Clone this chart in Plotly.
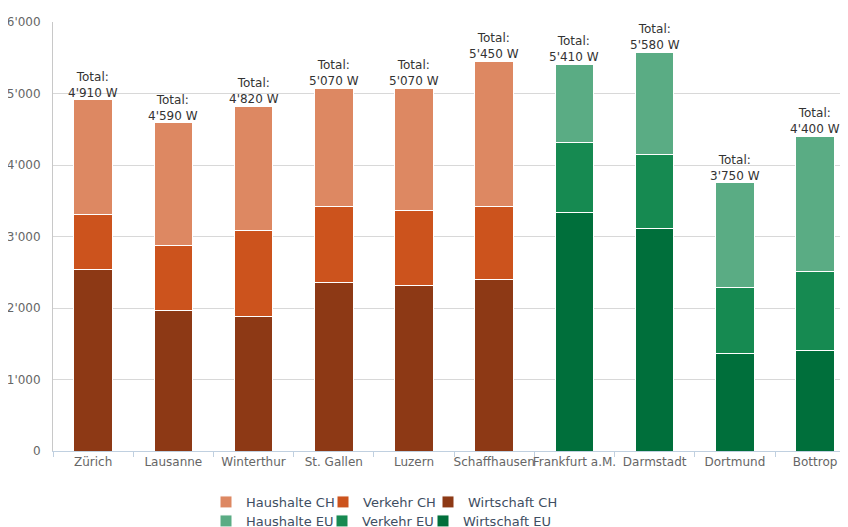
import plotly.graph_objects as go

categories = ["Zürich", "Lausanne", "Winterthur", "St. Gallen", "Luzern", "Schaffhausen",
              "Frankfurt a.M.", "Darmstadt", "Dortmund", "Bottrop"]
ch_cities = categories[:6]
eu_cities = categories[6:]

wirtschaft_ch = [2540, 1960, 1880, 2360, 2310, 2400]
verkehr_ch = [770, 910, 1210, 1060, 1050, 1020]
haushalte_ch = [1600, 1720, 1730, 1650, 1710, 2030]

wirtschaft_eu = [3330, 3110, 1370, 1410]
verkehr_eu = [980, 1030, 910, 1100]
haushalte_eu = [1100, 1440, 1470, 1890]

totals = [4910, 4590, 4820, 5070, 5070, 5450, 5410, 5580, 3750, 4400]

colors = {
    "Haushalte CH": "#DD8862", "Verkehr CH": "#CC531D", "Wirtschaft CH": "#8D3915",
    "Haushalte EU": "#5AAC84", "Verkehr EU": "#168A51", "Wirtschaft EU": "#006F3B",
}

FONT = "DejaVu Sans"
W, H = 840, 519          # figure sits at an 8px page offset
fig = go.Figure()

# legend placement (page pixels: text start, row centre)
legend_pos = {
    "Haushalte CH": (246, 502), "Verkehr CH": (363, 502), "Wirtschaft CH": (468, 502),
    "Haushalte EU": (246, 521), "Verkehr EU": (362, 521), "Wirtschaft EU": (463, 521),
}
legend_ids = {}

def add(name, x, y):
    lid = "legend" if not legend_ids else f"legend{len(legend_ids) + 1}"
    legend_ids[name] = lid
    fig.add_trace(go.Bar(
        name=name, x=x, y=y, legend=lid,
        marker=dict(color=colors[name], line=dict(color="white", width=1)),
        hoverinfo="x+y+name",
    ))

add("Wirtschaft CH", ch_cities, wirtschaft_ch)
add("Verkehr CH", ch_cities, verkehr_ch)
add("Haushalte CH", ch_cities, haushalte_ch)
add("Wirtschaft EU", eu_cities, wirtschaft_eu)
add("Verkehr EU", eu_cities, verkehr_eu)
add("Haushalte EU", eu_cities, haushalte_eu)

for c, t in zip(categories, totals):
    fig.add_annotation(
        x=c, y=t, xref="x", yref="y", showarrow=False, yanchor="bottom",
        text="Total:<br>" + f"{t:,}".replace(",", "'") + " W",
        font=dict(family=FONT, size=12, color="#333333"), yshift=-2,
    )

legends = {}
for name, lid in legend_ids.items():
    px, py = legend_pos[name]
    legends[lid] = dict(
        orientation="h", xref="container", yref="container",
        xanchor="left", yanchor="middle",
        x=(px - 8 - 40) / W, y=1 - (py - 8) / H,
        font=dict(family=FONT, size=13, color="#3E4E62"),
        bgcolor="rgba(0,0,0,0)", borderwidth=0, itemclick=False,
    )

fig.update_layout(
    width=W, height=H,
    margin=dict(l=45, r=0, t=14, b=76, pad=0, autoexpand=False),
    paper_bgcolor="white", plot_bgcolor="white",
    barmode="stack", bargap=0.52,
    separators=".'",
    font=dict(family=FONT, size=12, color="#666666"),
    showlegend=True,
    xaxis=dict(
        type="category", categoryorder="array", categoryarray=categories,
        range=[-0.5, 9.41], showgrid=False, showline=True, linecolor="#C0D0E0", linewidth=1,
        ticks="outside", tickson="boundaries", ticklen=5, tickcolor="#C0D0E0",
        tickangle=0, automargin=False,
        tickfont=dict(family=FONT, size=12, color="#666666"), fixedrange=True,
    ),
    yaxis=dict(
        range=[0, 6000], dtick=1000, tickformat=",d", showgrid=True, gridcolor="#D8D8D8",
        showline=True, linecolor="#C8C8C8", linewidth=1, zeroline=False,
        ticks="", ticklabelstandoff=9, automargin=False,
        tickfont=dict(family=FONT, size=12, color="#666666"), fixedrange=True,
    ),
    **legends,
)

fig.write_html("out.html")
